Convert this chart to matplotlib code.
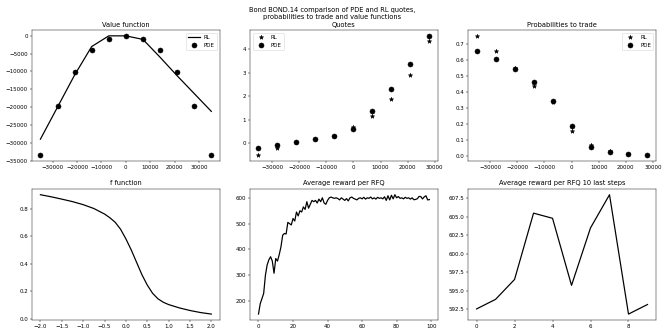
import matplotlib
matplotlib.use("Agg")
import matplotlib.pyplot as plt
from matplotlib.ticker import MultipleLocator
import numpy as np

# inventory grid
q_vf = [-35000, -28000, -21000, -14000, -7000, 0, 7000, 14000, 21000, 28000, 35000]
vf_rl = [-29000, -20000, -11000, -3000, 0, 0, -1000, -6000, -11200, -16200, -21200]
vf_pde = [-33500, -19800, -10200, -4000, -800, 0, -900, -4000, -10200, -19800, -33500]

q = [-35000, -28000, -21000, -14000, -7000, 0, 7000, 14000, 21000, 28000]
quotes_rl = [-0.50, -0.20, 0.05, 0.17, 0.32, 0.68, 1.18, 1.90, 2.90, 4.35]
quotes_pde = [-0.18, -0.07, 0.05, 0.18, 0.33, 0.62, 1.37, 2.33, 3.38, 4.58]

proba_rl = [0.750, 0.655, 0.550, 0.440, 0.340, 0.155, 0.070, 0.035, 0.015, 0.008]
proba_pde = [0.655, 0.605, 0.545, 0.460, 0.345, 0.185, 0.055, 0.025, 0.012, 0.006]

# f function
f_x = [-2.0, -1.75, -1.5, -1.25, -1.0, -0.75, -0.5, -0.375, -0.25, -0.125, 0.0,
       0.125, 0.25, 0.375, 0.5, 0.625, 0.75, 0.875, 1.0, 1.25, 1.5, 1.75, 2.0]
f_y = [0.900, 0.885, 0.868, 0.850, 0.828, 0.800, 0.760, 0.733, 0.700, 0.650, 0.580,
       0.500, 0.410, 0.320, 0.245, 0.185, 0.145, 0.120, 0.103, 0.079, 0.060, 0.045, 0.034]

# average reward per RFQ (100 steps)
avg_reward = [150, 190, 210, 230, 300, 340, 360, 372, 355, 308,
              365, 355, 380, 410, 455, 462, 460, 505, 500, 495,
              520, 510, 545, 530, 550, 545, 565, 555, 585, 560,
              575, 590, 585, 590, 580, 595, 585, 600, 580, 575,
              590, 600, 603, 600, 598, 600, 597, 592, 600, 595,
              590, 597, 588, 600, 603, 598, 595, 592, 598, 600,
              596, 602, 595, 600, 598, 603, 596, 600, 595, 602,
              598, 600, 596, 604, 590, 608, 592, 610, 596, 612,
              600, 605, 598, 600, 596, 602, 598, 600, 595, 600,
              592.5, 593.8, 596.5, 605.5, 604.8, 595.7, 603.5, 608.0, 591.8, 593.1]
last10 = avg_reward[-10:]

LW = 2.2
MS_DOT = 9
MS_STAR = 8

fig, axes = plt.subplots(2, 3, figsize=(16.6, 8.3), dpi=40)
fig.suptitle("Bond BOND.14 comparison of PDE and RL quotes,\nprobabilities to trade and value functions")

ax = axes[0, 0]
ax.plot(q_vf, vf_rl, color="k", lw=LW, label="RL")
ax.plot(q_vf, vf_pde, "o", color="k", ms=MS_DOT, label="PDE")
ax.set_title("Value function")
ax.legend(loc="upper right")

ax = axes[0, 1]
ax.plot(q, quotes_rl, "*", color="k", ms=MS_STAR, label="RL")
ax.plot(q, quotes_pde, "o", color="k", ms=MS_DOT, label="PDE")
ax.set_title("Quotes")
ax.legend(loc="upper left")

ax = axes[0, 2]
ax.plot(q, proba_rl, "*", color="k", ms=MS_STAR, label="RL")
ax.plot(q, proba_pde, "o", color="k", ms=MS_DOT, label="PDE")
ax.set_title("Probabilities to trade")
ax.legend(loc="upper right")

ax = axes[1, 0]
ax.plot(f_x, f_y, color="k", lw=LW)
ax.set_title("f function")

ax = axes[1, 1]
ax.plot(range(len(avg_reward)), avg_reward, color="k", lw=LW)
ax.set_title("Average reward per RFQ")

ax = axes[1, 2]
ax.plot(range(len(last10)), last10, color="k", lw=LW)
ax.yaxis.set_major_locator(MultipleLocator(2.5))
ax.set_title("Average reward per RFQ 10 last steps")

fig.subplots_adjust(left=0.048, right=0.988, top=0.91, bottom=0.036,
                    wspace=0.16, hspace=0.21)
fig.savefig("out.png")
